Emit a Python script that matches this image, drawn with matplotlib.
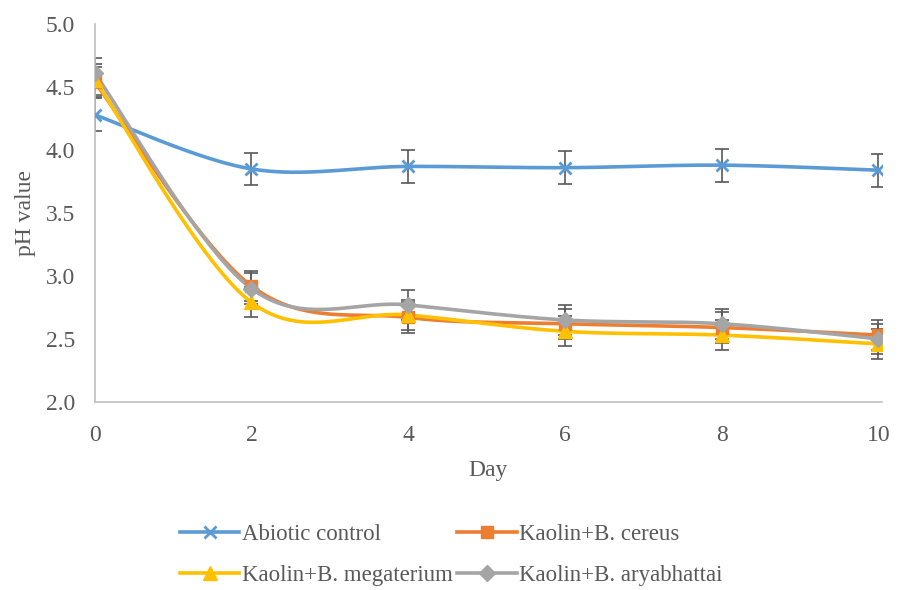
import numpy as np
import matplotlib.pyplot as plt

plt.rcParams['font.family'] = ['Liberation Serif', 'DejaVu Serif']

days = [0, 2, 4, 6, 8, 10]
abiotic = [4.28, 3.85, 3.87, 3.86, 3.88, 3.84]
cereus = [4.54, 2.92, 2.67, 2.62, 2.59, 2.53]
megaterium = [4.56, 2.79, 2.69, 2.56, 2.53, 2.46]
aryabhattai = [4.61, 2.90, 2.77, 2.65, 2.62, 2.50]

err_abiotic = [0.13, 0.13, 0.13, 0.13, 0.13, 0.13]
err_cereus = [0.12, 0.12, 0.12, 0.12, 0.12, 0.12]
err_megaterium = [0.12, 0.12, 0.12, 0.12, 0.12, 0.12]
err_aryabhattai = [0.12, 0.12, 0.12, 0.12, 0.12, 0.12]

labels = ["Abiotic control", "Kaolin+B. cereus",
          "Kaolin+B. megaterium", "Kaolin+B. aryabhattai"]
colors = ["#5B9BD5", "#ED7D31", "#FFC000", "#A5A5A5"]
markers = ["x", "s", "^", "D"]
msizes = [9, 9, 10, 8]


def smooth(x, y, n=40):
    # bezier smoothing like a spreadsheet "smoothed line"
    x = np.asarray(x, float)
    y = np.asarray(y, float)
    P = np.column_stack([x, y])
    pts = []
    for i in range(len(P) - 1):
        p0 = P[i - 1] if i > 0 else P[i]
        p1 = P[i]
        p2 = P[i + 1]
        p3 = P[i + 2] if i + 2 < len(P) else P[i + 1]
        c1 = p1 + (p2 - p0) / 6.0
        c2 = p2 - (p3 - p1) / 6.0
        t = np.linspace(0, 1, n)[:, None]
        seg = ((1 - t) ** 3) * p1 + 3 * ((1 - t) ** 2) * t * c1 + 3 * (1 - t) * t ** 2 * c2 + t ** 3 * p2
        pts.append(seg if i == 0 else seg[1:])
    pts = np.vstack(pts)
    return pts[:, 0], pts[:, 1]


fig = plt.figure(figsize=(9.02, 5.90), dpi=100)
ax = fig.add_axes([0.105, 0.319, 0.873, 0.640])

series = [abiotic, cereus, megaterium, aryabhattai]
errs = [err_abiotic, err_cereus, err_megaterium, err_aryabhattai]

for vals, err in zip(series, errs):
    ax.errorbar(days, vals, yerr=err, fmt="none", ecolor="#595959",
                elinewidth=1.2, capsize=5, capthick=1.2, zorder=2)

handles = []
for vals, lab, c, m, ms in zip(series, labels, colors, markers, msizes):
    sx, sy = smooth(days, vals)
    ax.plot(sx, sy, color=c, lw=2.6, zorder=3, solid_capstyle="round")
    ax.plot(days, vals, ls="none", marker=m, color=c, ms=ms,
            mew=2 if m == "x" else 1, zorder=4)
    h, = ax.plot([], [], color=c, lw=2.6, marker=m, ms=ms,
                 mew=2 if m == "x" else 1, label=lab)
    handles.append(h)

ax.set_xlim(0, 10.05)
ax.set_ylim(2.0, 5.0)
ax.set_xticks(days)
ax.set_yticks(np.arange(2.0, 5.01, 0.5))
ax.yaxis.set_major_formatter(plt.FormatStrFormatter("%.1f"))
ax.tick_params(length=0, labelsize=17, colors="#595959", pad=14)
ax.tick_params(axis="x", pad=17)

for s in ["top", "right"]:
    ax.spines[s].set_visible(False)
for s in ["left", "bottom"]:
    ax.spines[s].set_color("#BFBFBF")
    ax.spines[s].set_linewidth(1.2)

ax.set_xlabel("Day", fontsize=17, color="#595959", labelpad=10)
ax.set_ylabel("pH value", fontsize=17, color="#595959", labelpad=7)

# legend fills column-wise, so reorder to read row by row
order = [0, 2, 1, 3]
leg = fig.legend([handles[i] for i in order], [labels[i] for i in order],
                 loc="lower center", bbox_to_anchor=(0.5, -0.028), ncol=2,
                 frameon=False, fontsize=16.5, handlelength=2.6,
                 columnspacing=0.2, handletextpad=0.1, labelspacing=0.85)
for t in leg.get_texts():
    t.set_color("#595959")

fig.savefig("out.png", dpi=100)
